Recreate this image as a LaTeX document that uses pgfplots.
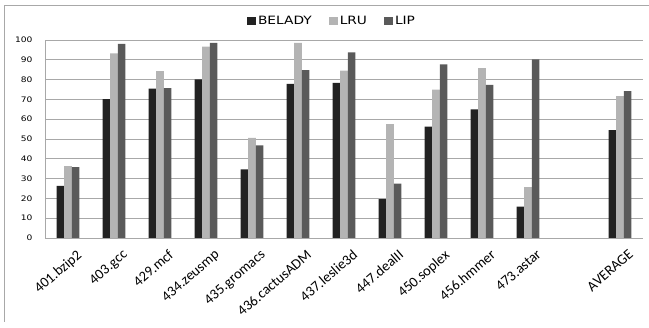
\documentclass[border=0pt]{standalone}
\usepackage{fontspec}
\setmainfont{DejaVu Sans}
\newfontfamily\tickfont[FakeStretch=1.2]{DejaVu Sans}
\newfontfamily\catfont{Carlito}
\usepackage{pgfplots}
\pgfplotsset{compat=1.18}
\definecolor{cBelady}{HTML}{222222}
\definecolor{cLRU}{HTML}{B4B4B4}
\definecolor{cLIP}{HTML}{5A5A5A}
\definecolor{gridc}{HTML}{A8A8A8}

\begin{document}
\begin{tikzpicture}
\path[use as bounding box] (0bp,0bp) rectangle (649bp,328bp);
% outer frame (left and top edges only)
\draw[gridc, line width=1bp] (4.5bp,6bp) -- (4.5bp,322bp) -- (649bp,322bp);
\begin{axis}[
  at={(45bp,90bp)}, anchor=south west,
  scale only axis, width=598bp, height=198bp,
  xmin=-0.5, xmax=12.5, ymin=0, ymax=100,
  ytick={0,10,...,100},
  xtick={0,1,2,3,4,5,6,7,8,9,10,12},
  xticklabels={401.bzip2,403.gcc,429.mcf,434.zeusmp,435.gromacs,436.cactusADM,437.leslie3d,447.dealII,450.soplex,456.hmmer,473.astar,AVERAGE},
  /pgf/number format/assume math mode=true,
  major tick length=0pt,
  axis x line*=bottom, axis y line*=left,
  axis line style={gridc, line width=1bp, -},
  ymajorgrids, grid style={gridc, line width=0.9bp},
  yticklabel style={font=\tickfont\fontsize{7.6}{9}\selectfont, xshift=-9bp},
  xticklabel style={font=\catfont\fontsize{14.5}{16}\selectfont, rotate=41, anchor=north east, inner sep=0pt, xshift=-1bp, yshift=-13bp},
  ybar=0pt, bar width=7.6bp,
  legend columns=3,
  legend cell align=left,
  legend style={draw=none, fill=none, at={(0.48,1.096)}, anchor=center,
    font=\tickfont\fontsize{11.5}{13}\selectfont,
    /tikz/every even column/.append style={column sep=15bp}},
  legend image code/.code={\fill[#1] (0bp,-4bp) rectangle (9bp,4bp);},
]
\addplot[fill=cBelady, draw=none] coordinates {
  (0,26.3) (1,70.2) (2,75.4) (3,80.1) (4,34.6) (5,77.9)
  (6,78.4) (7,19.6) (8,56.2) (9,65.0) (10,15.9) (12,54.5)};
\addplot[fill=cLRU, draw=none] coordinates {
  (0,36.3) (1,93.3) (2,84.3) (3,96.6) (4,50.6) (5,98.6)
  (6,84.5) (7,57.5) (8,74.9) (9,85.8) (10,25.7) (12,71.7)};
\addplot[fill=cLIP, draw=none] coordinates {
  (0,35.8) (1,98.1) (2,75.7) (3,98.6) (4,46.8) (5,84.8)
  (6,93.8) (7,27.5) (8,87.7) (9,77.3) (10,90.2) (12,74.2)};
\legend{BELADY,LRU,LIP}
\end{axis}
\end{tikzpicture}
\end{document}
